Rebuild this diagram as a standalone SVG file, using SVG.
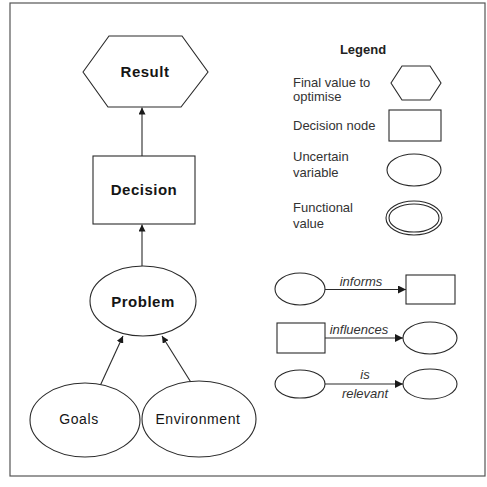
<svg xmlns="http://www.w3.org/2000/svg" width="487" height="487" viewBox="0 0 487 487">
<defs>
<style>
.frame{fill:none;stroke:#555;stroke-width:1.2}
.shape{fill:#fff;stroke:#2a2a2a;stroke-width:1.1}
.conn{fill:none;stroke:#2a2a2a;stroke-width:1.1}
.main{font-family:"Liberation Sans",Arial,sans-serif;font-size:15px;font-weight:bold;fill:#151515;text-anchor:middle;letter-spacing:0.5px}
.main2{font-family:"Liberation Sans",Arial,sans-serif;font-size:14px;fill:#151515;text-anchor:middle;letter-spacing:0.6px}
.leg{font-family:"Liberation Sans",Arial,sans-serif;font-size:13px;fill:#333}
.lab{font-family:"Liberation Sans",Arial,sans-serif;font-size:13px;font-style:italic;fill:#333;text-anchor:middle}
.title{font-family:"Liberation Sans",Arial,sans-serif;font-size:13px;font-weight:bold;fill:#222;text-anchor:middle}
</style>
<marker id="ah" viewBox="0 0 10 10" refX="10" refY="5" markerWidth="7" markerHeight="7" markerUnits="userSpaceOnUse" orient="auto">
<path d="M0,0 L10,5 L0,10 z" fill="#1a1a1a"/>
</marker>
<marker id="ahL" viewBox="0 0 10 10" refX="10" refY="5" markerWidth="9" markerHeight="8" markerUnits="userSpaceOnUse" orient="auto">
<path d="M0,0 L10,5 L0,10 z" fill="#1a1a1a"/>
</marker>
</defs>
<rect x="0" y="0" width="487" height="487" fill="#fff"/>
<rect class="frame" x="10" y="3" width="475" height="473"/>

<g id="connectors">
<line class="conn" x1="142" y1="156" x2="142" y2="107.5" marker-end="url(#ah)"/>
<line class="conn" x1="142" y1="266" x2="142" y2="224.5" marker-end="url(#ah)"/>
<line class="conn" x1="100" y1="386" x2="123" y2="336" marker-end="url(#ah)"/>
<line class="conn" x1="192" y1="384" x2="162" y2="336" marker-end="url(#ah)"/>
<line class="conn" x1="325" y1="289.5" x2="406" y2="289.5" marker-end="url(#ahL)"/>
<line class="conn" x1="325" y1="338" x2="403" y2="338" marker-end="url(#ahL)"/>
<line class="conn" x1="325" y1="384" x2="403" y2="384" marker-end="url(#ahL)"/>
<text class="lab" x="361" y="286">informs</text>
<text class="lab" x="359" y="334">influences</text>
<text class="lab" x="365" y="379">is</text>
<text class="lab" x="365" y="398">relevant</text>
</g>

<g id="result">
<polygon class="shape" points="83,72 109,36 182,36 208,72 181,107 108,107"/>
<text class="main" x="145" y="77">Result</text>
</g>
<g id="decision">
<rect class="shape" x="93" y="156" width="102" height="68"/>
<text class="main" x="144" y="195">Decision</text>
</g>
<g id="problem">
<ellipse class="shape" cx="143" cy="301" rx="53" ry="35"/>
<text class="main" x="143" y="307">Problem</text>
</g>
<g id="goals">
<ellipse class="shape" cx="85" cy="420" rx="55" ry="37"/>
<text class="main2" x="79" y="424">Goals</text>
</g>
<g id="environment">
<ellipse class="shape" cx="199" cy="419" rx="57" ry="38"/>
<text class="main2" x="198" y="424">Environment</text>
</g>

<g id="legend">
<text class="title" x="363" y="54">Legend</text>
<text class="leg" x="293" y="87">Final value to</text>
<text class="leg" x="293" y="101">optimise</text>
<polygon class="shape" points="391,83 402,66 430,66 441,83 430,100 402,100"/>
<text class="leg" x="293" y="130">Decision node</text>
<rect class="shape" x="389" y="110" width="52" height="31"/>
<text class="leg" x="293" y="161">Uncertain</text>
<text class="leg" x="293" y="177">variable</text>
<ellipse class="shape" cx="414" cy="170" rx="27" ry="16"/>
<text class="leg" x="293" y="212">Functional</text>
<text class="leg" x="293" y="228">value</text>
<ellipse class="shape" cx="414" cy="218" rx="28" ry="17"/>
<ellipse class="shape" cx="414" cy="218" rx="25" ry="14"/>
</g>

<g id="legend-informs-source"><ellipse class="shape" cx="300" cy="289" rx="25" ry="16"/></g>
<g id="legend-informs-target"><rect class="shape" x="406" y="275" width="49" height="29"/></g>
<g id="legend-influences-source"><rect class="shape" x="277" y="323" width="48" height="30"/></g>
<g id="legend-influences-target"><ellipse class="shape" cx="430" cy="338" rx="27" ry="16"/></g>
<g id="legend-relevant-source"><ellipse class="shape" cx="300" cy="384" rx="25" ry="14"/></g>
<g id="legend-relevant-target"><ellipse class="shape" cx="430" cy="384" rx="27" ry="15"/></g>
</svg>
